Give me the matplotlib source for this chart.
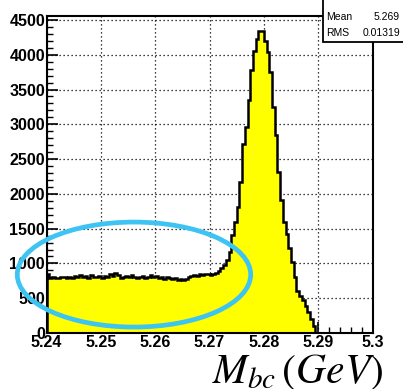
import numpy as np
import matplotlib
matplotlib.use("Agg")
import matplotlib.pyplot as plt
from matplotlib.patches import Ellipse, Rectangle
from matplotlib.ticker import MultipleLocator

# ---- data ----
x_min = 5.24
x_max = 5.30
n_bins = 120
counts = [
    850, 790, 800, 785, 795, 800, 810, 795, 805, 790,
    815, 800, 830, 805, 820, 795, 835, 810, 800, 820,
    790, 825, 805, 850, 815, 866, 830, 790, 805, 820,
    800, 840, 810, 790, 805, 825, 795, 810, 830, 800,
    815, 790, 805, 780, 800, 790, 770, 785, 765, 770,
    760, 775, 800, 815, 830, 820, 845, 840, 855, 845,
    835, 845, 860, 885, 930, 980, 1050, 1170, 1410, 1600,
    1815, 2175, 2715, 2965, 3350, 3780, 4050, 4230, 4340, 4340,
    4200, 4040, 3750, 3250, 2850, 2320, 1910, 1600, 1420, 1220,
    1020, 800, 600, 530, 470, 390, 300, 200, 100, 0,
    0, 0, 0, 0, 0, 0, 0, 0, 0, 0,
    0, 0, 0, 0, 0, 0, 0, 0, 0, 0,
]
x_ticks = [5.24, 5.25, 5.26, 5.27, 5.28, 5.29, 5.30]
x_tick_labels = ["5.24", "5.25", "5.26", "5.27", "5.28", "5.29", "5.3"]
y_ticks = [0, 500, 1000, 1500, 2000, 2500, 3000, 3500, 4000, 4500]
stat_names = ["Mean", "RMS"]
stat_values = ["5.269", "0.01319"]
x_label = r"$M_{bc}\,(GeV)$"

W, H = 403, 389
fig = plt.figure(figsize=(W / 100, H / 100), dpi=100)
ax = fig.add_axes([46.5 / W, 1 - 333 / H, (372.5 - 46.5) / W, (333 - 16) / H])

edges = np.linspace(x_min, x_max, n_bins + 1)
ax.stairs(counts, edges, fill=True, color="#ffff00", zorder=2)
ax.stairs(counts, edges, color="black", linewidth=1.8, zorder=3)

ax.set_xlim(x_min, x_max)
ax.set_ylim(0, 4557)

tick_font = dict(family="Liberation Sans", weight="bold", size=11.5)
ax.set_xticks(x_ticks)
ax.set_xticklabels(x_tick_labels, **tick_font)
ax.set_yticks(y_ticks)
ax.set_yticklabels([str(v) for v in y_ticks], **tick_font)
ax.xaxis.set_minor_locator(MultipleLocator(0.002))
ax.yaxis.set_minor_locator(MultipleLocator(100))
ax.tick_params(axis="both", which="major", direction="in", length=8, width=1.2,
               color="black", top=False, right=False, pad=1.5)
ax.tick_params(axis="both", which="minor", direction="in", length=4, width=1.0,
               top=False, right=False)
ax.tick_params(axis="y", pad=1)
ax.grid(True, which="major", linestyle=(0, (1, 2.2)), color="black", linewidth=0.9, zorder=1)
ax.set_axisbelow(True)
for s in ax.spines.values():
    s.set_linewidth(1.5)
    s.set_zorder(4)

# annotation ellipse
ell = Ellipse((5.2561, 840), 0.04296, 1509, fill=False, edgecolor="#3ec4f2",
              linewidth=3.4, clip_on=False, zorder=6)
ax.add_patch(ell)

# stats box
box = Rectangle((323 / W, 1 - 42 / H), 1.0, 42 / H + 0.01, transform=fig.transFigure,
                facecolor="white", edgecolor="black", linewidth=1.3, zorder=10)
fig.add_artist(box)
for i, (nm, val) in enumerate(zip(stat_names, stat_values)):
    yy = 1 - (17 + 16.5 * i) / H
    fig.text(326 / W, yy, nm, ha="left", va="center", fontsize=7.5,
             family="Liberation Sans", zorder=11)
    fig.text(400 / W, yy, val, ha="right", va="center", fontsize=7.5,
             family="Liberation Sans", zorder=11)

plt.rcParams["mathtext.fontset"] = "stix"
fig.text(212 / W, 1 - 383 / H, x_label, ha="left", va="baseline", fontsize=30,
         family="STIXGeneral")

fig.savefig("out.png", dpi=100)
